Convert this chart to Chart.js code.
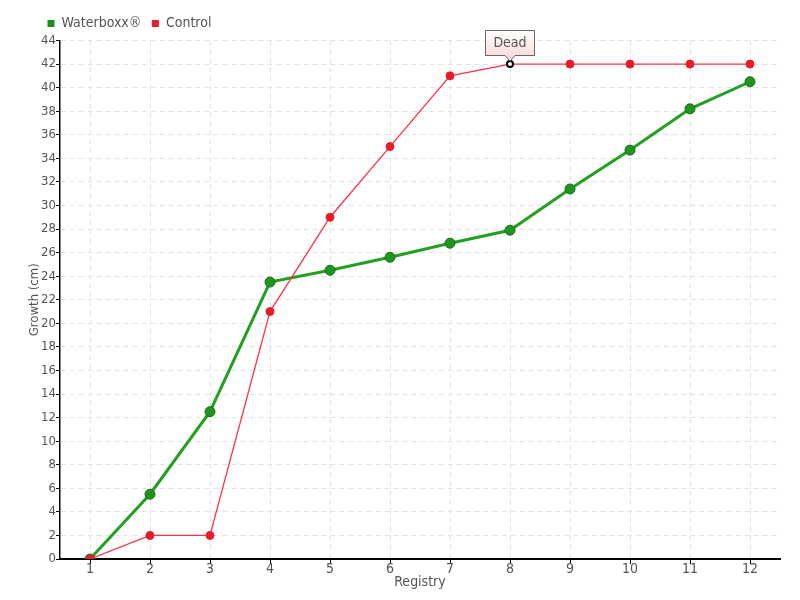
<!DOCTYPE html>
<html lang="en">
<head>
  <meta charset="UTF-8" />
  <title>Waterboxx growth</title>
  <style>
    * { margin: 0; padding: 0; box-sizing: border-box; }
    body { background: #fff; width: 800px; height: 600px; overflow: hidden; }
    .chart-box { position: relative; width: 800px; height: 600px; }
  </style>
</head>
<body>
  <div class="chart-box">
    <canvas id="growthChart" width="800" height="600"></canvas>
  </div>

  <script src="https://cdn.jsdelivr.net/npm/chart.js"></script>
  <script>
    const registry = ['1', '2', '3', '4', '5', '6', '7', '8', '9', '10', '11', '12'];
    const waterboxx = [0, 5.5, 12.5, 23.5, 24.5, 25.6, 26.8, 27.9, 31.4, 34.7, 38.2, 40.5];
    const control = [0, 2, 2, 21, 29, 35, 41, 42, 42, 42, 42, 42];
    const deadIndex = 7;
    const deadLabel = 'Dead';

    const fontFamily = "'DejaVu Sans Condensed', 'DejaVu Sans', sans-serif";
    const textColor = '#555';

    // little callout box over the control point where the plant died
    const deadNote = {
      id: 'deadNote',
      afterLayout(chart) {
        // legend sits above the plot, not at the canvas edge
        chart.legend.left += 37;
      },
      afterDatasetsDraw(chart) {
        const pt = chart.getDatasetMeta(1).data[deadIndex];
        if (!pt) return;
        const ctx = chart.ctx;
        const w = 50, h = 26;
        const x = Math.round(pt.x - w / 2), y = Math.round(pt.y - 34);
        ctx.save();
        const grad = ctx.createLinearGradient(0, y, 0, y + h);
        grad.addColorStop(0, '#ffffff');
        grad.addColorStop(1, '#fbdcdc');
        ctx.fillStyle = grad;
        ctx.strokeStyle = '#666';
        ctx.lineWidth = 1;
        ctx.beginPath();
        ctx.moveTo(x + 0.5, y + 0.5);
        ctx.lineTo(x + w - 0.5, y + 0.5);
        ctx.lineTo(x + w - 0.5, y + h - 0.5);
        ctx.lineTo(pt.x + 5, y + h - 0.5);
        ctx.lineTo(pt.x, y + h + 5);
        ctx.lineTo(pt.x - 5, y + h - 0.5);
        ctx.lineTo(x + 0.5, y + h - 0.5);
        ctx.closePath();
        ctx.fill();
        ctx.stroke();
        ctx.fillStyle = textColor;
        ctx.font = '14px ' + fontFamily;
        ctx.textAlign = 'center';
        ctx.textBaseline = 'middle';
        ctx.fillText(deadLabel, pt.x, y + h / 2);
        ctx.restore();
      }
    };

    const ctx = document.getElementById('growthChart').getContext('2d');
    new Chart(ctx, {
      type: 'line',
      data: {
        labels: registry,
        datasets: [
          {
            label: 'Waterboxx®',
            data: waterboxx,
            order: 1,
            borderColor: '#22a022',
            backgroundColor: '#1a8f1a',
            borderWidth: 3,
            pointRadius: 5,
            pointBorderColor: '#157015',
            pointBorderWidth: 1,
            pointBackgroundColor: '#1f951f',
            tension: 0
          },
          {
            label: 'Control',
            data: control,
            order: 0,
            borderColor: '#ff3344',
            backgroundColor: '#ee1c2a',
            borderWidth: 1.3,
            pointRadius: control.map((v, i) => i === deadIndex ? 3 : 4),
            pointBackgroundColor: control.map((v, i) => i === deadIndex ? '#fff' : '#e81c28'),
            pointBorderColor: control.map((v, i) => i === deadIndex ? '#000' : '#e81c28'),
            pointBorderWidth: control.map((v, i) => i === deadIndex ? 2 : 1),
            tension: 0
          }
        ]
      },
      options: {
        responsive: false,
        animation: false,
        layout: { padding: { left: 0, right: 20, top: 6, bottom: 0 } },
        plugins: {
          tooltip: { enabled: false },
          legend: {
            position: 'top',
            align: 'start',
            labels: {
              boxWidth: 7,
              boxHeight: 7,
              padding: 10.5,
              color: textColor,
              font: { family: fontFamily, size: 14 },
              generateLabels(chart) {
                return chart.data.datasets.map((ds, i) => ({
                  text: ds.label,
                  fillStyle: ds.backgroundColor,
                  strokeStyle: ds.backgroundColor,
                  lineWidth: 0,
                  fontColor: textColor,
                  datasetIndex: i
                }));
              }
            }
          }
        },
        scales: {
          x: {
            offset: true,
            afterFit(scale) { scale.height = 41; },
            grid: {
              color: '#e2e2e2',
              tickColor: '#000',
              tickLength: 5,
              offset: false
            },
            border: { color: '#000', width: 2, dash: [5, 4] },
            ticks: {
              color: textColor,
              font: { family: fontFamily, size: 14 },
              padding: -3,
              autoSkip: false,
              maxRotation: 0
            },
            title: {
              display: true,
              text: 'Registry',
              color: textColor,
              font: { family: fontFamily, size: 14 },
              padding: { top: 0, bottom: 9 }
            }
          },
          y: {
            min: 0,
            max: 44,
            afterFit(scale) { scale.width = 60; },
            grid: {
              color: '#e2e2e2',
              tickColor: '#000',
              tickLength: 4
            },
            border: { color: '#000', width: 1.5, dash: [5, 4] },
            ticks: {
              stepSize: 2,
              autoSkip: false,
              color: textColor,
              font: { family: fontFamily, size: 13 },
              padding: 0
            },
            title: {
              display: true,
              text: 'Growth (cm)',
              color: textColor,
              font: { family: fontFamily, size: 13 },
              padding: { top: 27, bottom: 0 }
            }
          }
        }
      },
      plugins: [deadNote]
    });
  </script>
</body>
</html>
